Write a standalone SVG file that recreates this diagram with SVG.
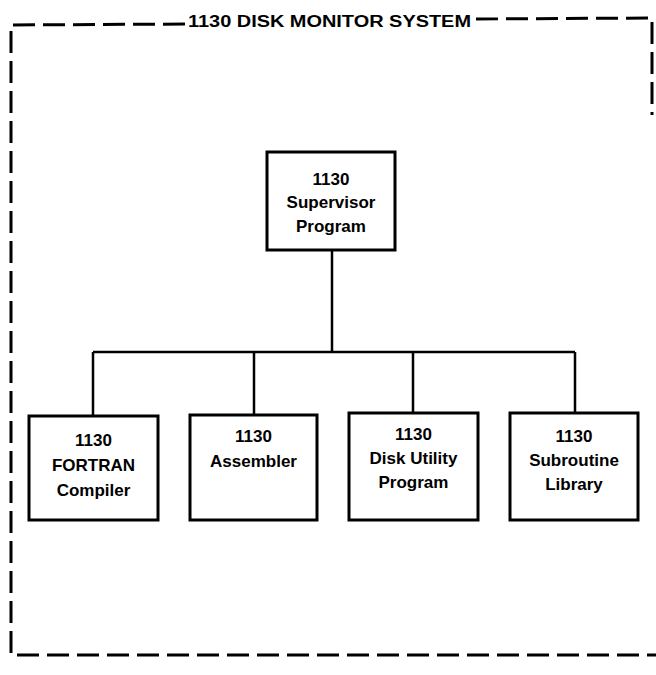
<svg xmlns="http://www.w3.org/2000/svg" width="656" height="675" viewBox="0 0 656 675">
<style>
.frame{fill:none;stroke:#000;stroke-width:3;stroke-dasharray:22 8}
.box{fill:#fff;stroke:#000;stroke-width:3}
.con{fill:none;stroke:#000;stroke-width:2.5}
.t{font-family:"Liberation Sans",Arial,sans-serif;font-weight:bold;font-size:17px;text-anchor:middle;fill:#000}
.title{font-family:"Liberation Sans",Arial,sans-serif;font-weight:bold;font-size:16px;fill:#000}
</style>
<rect width="656" height="675" fill="#fff"/>
<g id="frame">
<path class="frame" d="M185,24 L11,25 L11,655 L656,655"/>
<path class="frame" d="M476,19 L652,18 L652,115"/>
<text class="title" x="188" y="27" textLength="283" lengthAdjust="spacingAndGlyphs">1130 DISK MONITOR SYSTEM</text>
</g>
<g id="connectors">
<path class="con" d="M332,250 L332,352 M93,352 L575,352 M93,352 L93,416 M254,352 L254,415 M413,352 L413,413 M575,352 L575,413"/>
</g>
<g id="supervisor">
<rect class="box" x="267" y="152" width="128" height="98"/>
<text class="t" x="331" y="185">1130</text>
<text class="t" x="331" y="208">Supervisor</text>
<text class="t" x="331" y="232">Program</text>
</g>
<g id="fortran">
<rect class="box" x="29" y="416" width="129" height="104"/>
<text class="t" x="93.5" y="446">1130</text>
<text class="t" x="93.5" y="471">FORTRAN</text>
<text class="t" x="93.5" y="496">Compiler</text>
</g>
<g id="assembler">
<rect class="box" x="190" y="415" width="127" height="105"/>
<text class="t" x="253.5" y="442">1130</text>
<text class="t" x="253.5" y="467">Assembler</text>
</g>
<g id="diskutility">
<rect class="box" x="349" y="413" width="129" height="107"/>
<text class="t" x="413.5" y="440">1130</text>
<text class="t" x="413.5" y="464">Disk Utility</text>
<text class="t" x="413.5" y="488">Program</text>
</g>
<g id="subroutine">
<rect class="box" x="510" y="413" width="128" height="107"/>
<text class="t" x="574" y="442">1130</text>
<text class="t" x="574" y="466">Subroutine</text>
<text class="t" x="574" y="490">Library</text>
</g>
</svg>
